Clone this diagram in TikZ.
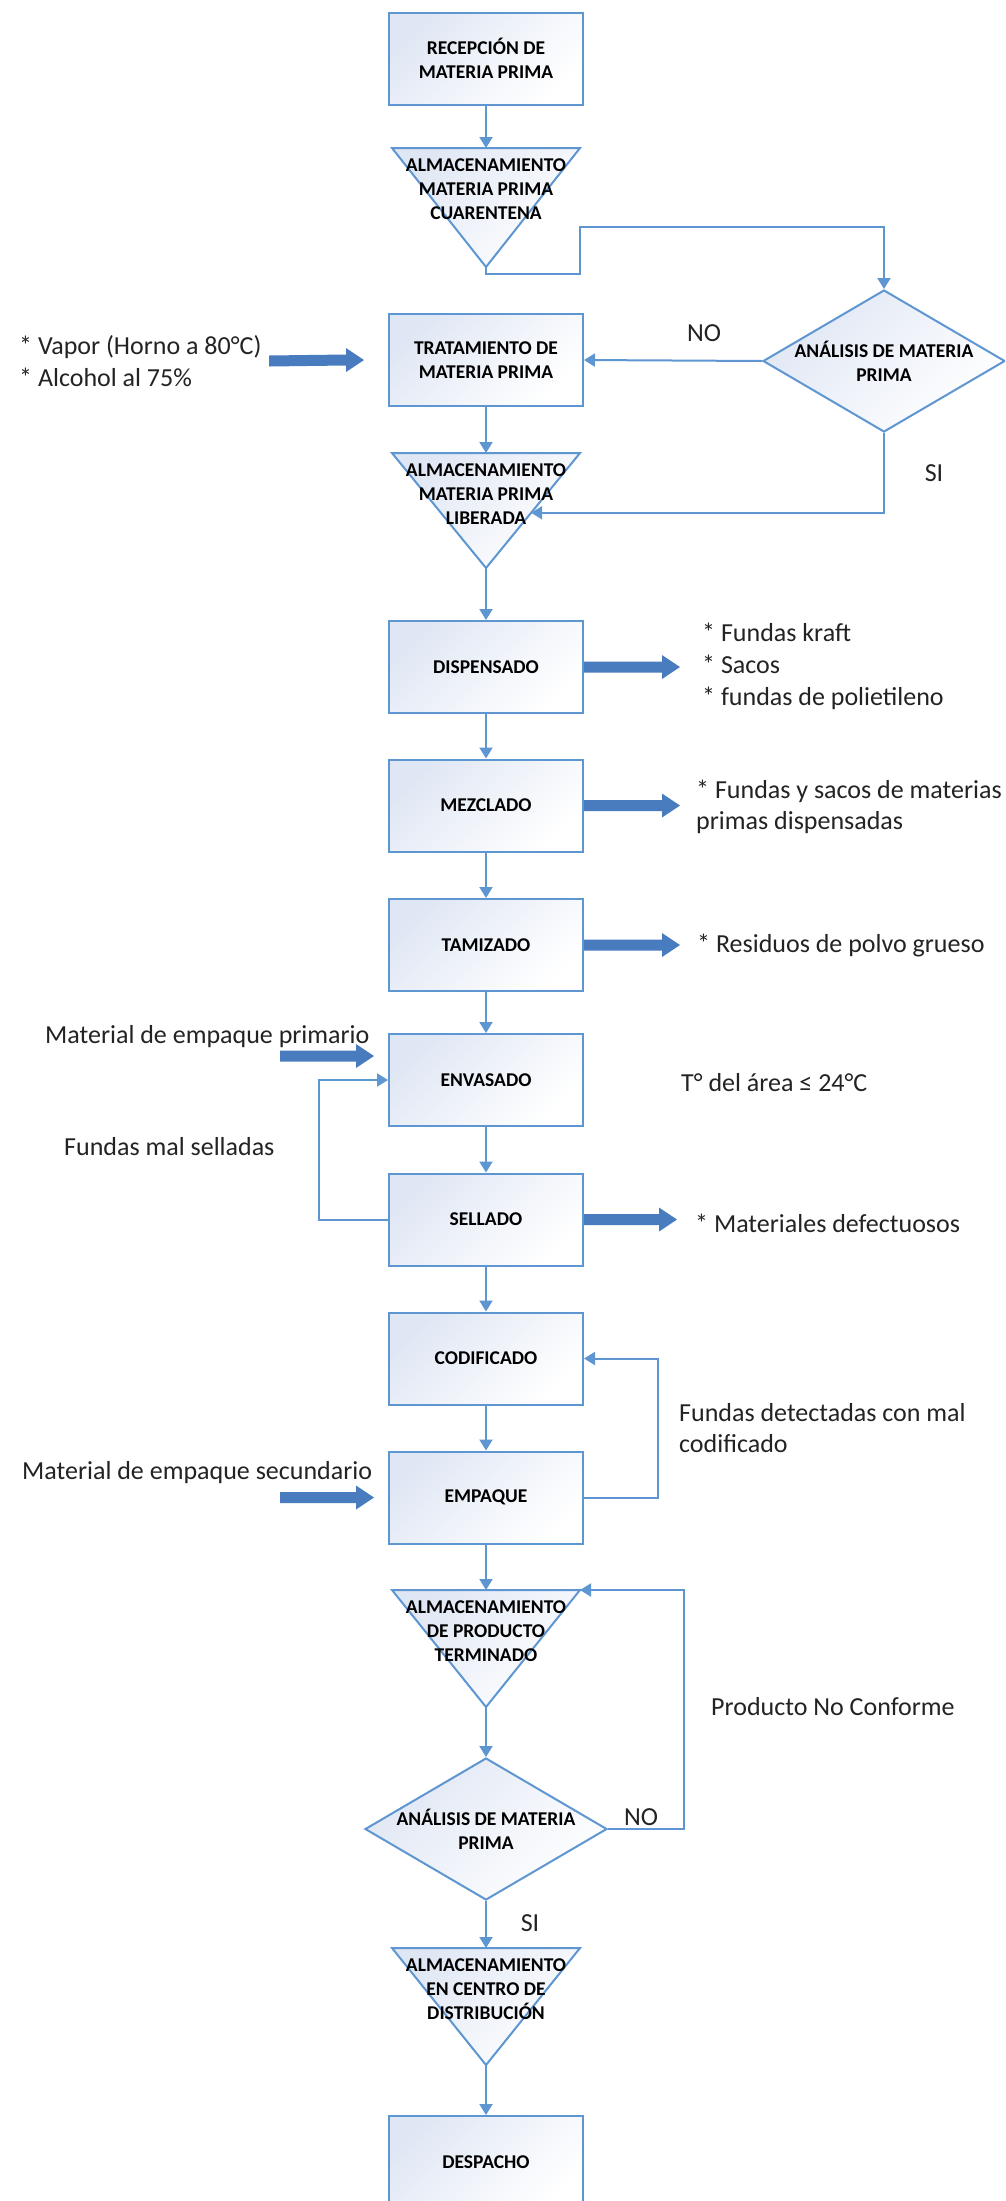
\documentclass[tikz,border=0pt]{standalone}
\usepackage{fontspec}
\setmainfont{Carlito}
\usetikzlibrary{arrows.meta,shapes.geometric,calc}
\definecolor{linecol}{RGB}{94,150,210}
\definecolor{fatcol}{RGB}{72,124,190}
\definecolor{tint}{RGB}{224,231,244}
\definecolor{ink}{RGB}{35,35,35}
\newcommand{\boxlabelfont}{\bfseries\fontsize{19.5pt}{23.8pt}\selectfont}
\newcommand{\sidenotefont}{\fontsize{26pt}{31.7pt}\selectfont}
% broad block arrow pointing right, from #1 to #2 (same height)
\newcommand{\fatarrow}[2]{%
  \fill[fatcol] ($(#1)+(0,-5.5)$) -- ($(#2)+(-18,-5.5)$) -- ($(#2)+(-18,-12)$)
    -- (#2) -- ($(#2)+(-18,12)$) -- ($(#2)+(-18,5.5)$) -- ($(#1)+(0,5.5)$) -- cycle;}
% inverted storage triangle: name prefix #1, top edge height #2, depth #3
\newcommand{\storetri}[3]{%
  \coordinate (#1L) at (392,#2);
  \coordinate (#1R) at (580,#2);
  \coordinate (#1top) at (486,#2);
  \coordinate (#1apex) at (486,#2+#3);
  \path[store] (#1L) -- (#1R) -- (#1apex) -- cycle;}
\begin{document}
\begin{tikzpicture}[x=1pt,y=-1pt,
  softfill/.style={top color=tint, bottom color=white, shading angle=45},
  stepbox/.style={draw=linecol, line width=2pt, softfill, minimum width=194pt,
    minimum height=92pt, inner sep=0pt, align=center, font=\boxlabelfont, text=black},
  decision/.style={diamond, draw=linecol, line width=2pt, softfill,
    minimum width=242pt, minimum height=142pt, inner sep=0pt},
  lbl/.style={font=\boxlabelfont, align=center, inner sep=0pt, text=black},
  note/.style={font=\sidenotefont, text=ink, inner sep=0pt, align=left},
  flow/.style={draw=linecol, line width=2pt, -{Triangle[width=13pt,length=11pt]}},
  store/.style={draw=linecol, line width=2pt, softfill, line join=miter},
]
\fill[white] (0,0) rectangle (1005,2201);
\useasboundingbox (0,0) rectangle (1005,2201);
\clip (0,0) rectangle (1005,2201);

% process steps
\node[stepbox] (rec)  at (486,58.5)  {RECEPCIÓN DE\\MATERIA PRIMA};
\node[stepbox] (trat) at (486,360)   {TRATAMIENTO DE\\MATERIA PRIMA};
\node[stepbox] (disp) at (486,667)   {DISPENSADO};
\node[stepbox] (mez)  at (486,805.5) {MEZCLADO};
\node[stepbox] (tam)  at (486,945)   {TAMIZADO};
\node[stepbox] (env)  at (486,1080)  {ENVASADO};
\node[stepbox] (sel)  at (486,1219.5){SELLADO};
\node[stepbox] (cod)  at (486,1358.5){CODIFICADO};
\node[stepbox] (emp)  at (486,1497.5){EMPAQUE};
\node[stepbox] (desp) at (486,2162)  {DESPACHO};

% decisions
\node[decision] (d1) at (884,361) {};
\node[lbl] (d1t) at (d1) {ANÁLISIS DE MATERIA\\PRIMA};
\node[decision] (d2) at (486,1829) {};
\node[lbl] (d2t) at (d2) {ANÁLISIS DE MATERIA\\PRIMA};

% storage triangles
\storetri{t1}{148}{119}
\storetri{t2}{453}{115}
\storetri{t3}{1590}{117}
\storetri{t4}{1948}{117}
\node[lbl] (t1t) at (486,189)  {ALMACENAMIENTO\\MATERIA PRIMA\\CUARENTENA};
\node[lbl] (t2t) at (486,494)  {ALMACENAMIENTO\\MATERIA PRIMA\\LIBERADA};
\node[lbl] (t3t) at (486,1631) {ALMACENAMIENTO\\DE PRODUCTO\\TERMINADO};
\node[lbl] (t4t) at (486,1989) {ALMACENAMIENTO\\EN CENTRO DE\\DISTRIBUCIÓN};

% main flow
\draw[flow] (rec.south) -- (t1top);
\coordinate (k1) at (580,274);
\coordinate (k2) at (580,227);
\draw[flow] (t1apex) |- (k1) -- (k2) -| (d1.north);
\draw[flow] (d1.west) -- (trat.east);
\draw[flow] (trat.south) -- (t2top);
\coordinate (t2edge) at ($(t2R)!0.52!(t2apex)$);
\draw[flow] (d1.south) |- (t2edge);
\draw[flow] (t2apex) -- (disp.north);
\draw[flow] (disp.south) -- (mez.north);
\draw[flow] (mez.south) -- (tam.north);
\draw[flow] (tam.south) -- (env.north);
\draw[flow] (env.south) -- (sel.north);
\draw[flow] (sel.south) -- (cod.north);
\draw[flow] (cod.south) -- (emp.north);
\draw[flow] (emp.south) -- (t3top);
\draw[flow] (t3apex) -- (d2.north);
\draw[flow] (d2.south) -- (t4top);
\draw[flow] (t4apex) -- (desp.north);

% return loops
\coordinate (lpA) at (319,1150);
\draw[flow] (sel.west) -| (lpA) |- (env.west);
\coordinate (lpB) at (658,1430);
\draw[flow] (emp.east) -| (lpB) |- (cod.east);
\coordinate (lpC) at (684,1700);
\draw[flow] (d2.east) -| (lpC) |- (t3R);

% side notes
\node[note] (no1) at (704,333) {NO};
\node[note] (si1) at (934,473) {SI};
\node[note, anchor=west] (vapor) at (19,361) {* Vapor (Horno a 80°C)\\* Alcohol al 75\%};
\node[note, anchor=west] (dispout) at (702,666.5) {* Fundas kraft\\* Sacos\\* fundas de polietileno};
\node[note, anchor=west] (mezout) at (696,807) {* Fundas y sacos de materias\\primas dispensadas};
\node[note, anchor=west] (tamout) at (697,945) {* Residuos de polvo grueso};
\node[note, anchor=west] (prim) at (45,1037) {Material de empaque primario};
\node[note, anchor=west] (temp) at (681,1083) {T° del área ≤ 24°C};
\node[note, anchor=west] (malsel) at (64,1147) {Fundas mal selladas};
\node[note, anchor=west] (selout) at (695,1223) {* Materiales defectuosos};
\node[note, anchor=west] (malcod) at (679,1428) {Fundas detectadas con mal\\codificado};
\node[note, anchor=west] (sec) at (22,1473) {Material de empaque secundario};
\node[note, anchor=west] (pnc) at (711,1707) {Producto No Conforme};
\node[note] (no2) at (641,1817) {NO};
\node[note] (si2) at (530,1923) {SI};

% block arrows for inputs and outputs
\coordinate (fa1) at (269,361);
\fatarrow{fa1}{$(trat.west)+(-24,0)$}
\fatarrow{disp.east}{$(disp.east)+(96,0)$}
\fatarrow{mez.east}{$(mez.east)+(96,0)$}
\fatarrow{tam.east}{$(tam.east)+(96,0)$}
\coordinate (fa2) at (280,1056);
\fatarrow{fa2}{$(env.west)+(-14,-24)$}
\fatarrow{sel.east}{$(sel.east)+(93,0)$}
\coordinate (fa3) at (280,1497.5);
\fatarrow{fa3}{$(emp.west)+(-14,0)$}
\end{tikzpicture}
\end{document}
